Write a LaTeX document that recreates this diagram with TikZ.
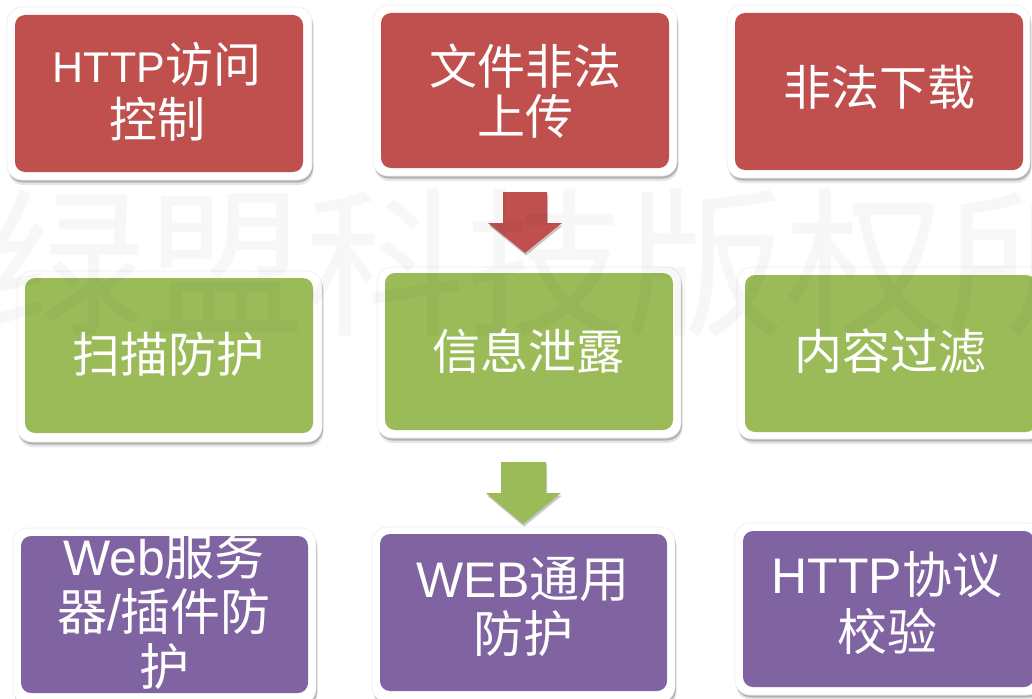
\documentclass[tikz,border=0pt]{standalone}
\usepackage{fontspec}
\usetikzlibrary{shadows}
\newfontfamily\song{Noto Sans CJK SC}
\newfontfamily\cjk{Noto Sans CJK SC}
\newfontfamily\lat{Liberation Sans}
\definecolor{redc}{HTML}{C0504D}
\definecolor{greenc}{HTML}{9BBB59}
\definecolor{purplec}{HTML}{8064A2}
\tikzset{
  frame/.style={fill=white, draw=black!7, line width=0.6pt, rounded corners=15pt, inner sep=0pt, outer sep=0pt,
    drop shadow={shadow xshift=1.5pt, shadow yshift=-5pt, opacity=0.10, fill=black},
    drop shadow={shadow xshift=1pt, shadow yshift=-2.5pt, opacity=0.22, fill=black}},
  inbox/.style={rounded corners=10pt, inner sep=0pt, outer sep=0pt},
  redbox/.style={inbox, fill=redc},
  greenbox/.style={inbox, fill=greenc},
  purplebox/.style={inbox, fill=purplec},
  lbl/.style={text=white, anchor=base, inner sep=0pt, outer sep=0pt},
  serif/.style={lbl, font=\song\fontsize{48}{48}\selectfont},
  sans/.style={lbl, font=\cjk\fontsize{50}{50}\selectfont},
  blockarrow/.style={drop shadow={shadow xshift=1pt, shadow yshift=-2.5pt, opacity=0.22, fill=black}},
  wmark/.style={anchor=base west, inner sep=0pt, text=black, text opacity=0.032,
    font=\cjk\fontsize{160}{160}\selectfont}
}
\newcommand{\LS}{\lat}
\begin{document}
\begin{tikzpicture}[x=1pt,y=-1pt]
\useasboundingbox (0,0) rectangle (1032,698);
\fill[white] (0,0) rectangle (1032,698);

% ---------- top row (red) ----------
\node[frame, minimum width=305pt, minimum height=173pt] (f1) at (159.5,93.5) {};
\node[redbox, minimum width=288pt, minimum height=157pt] (b1) at (159,93.5) {};
\node[serif] (t1a) at (157,83) {{\LS\fontsize{43}{43}\selectfont HTTP}访问};
\node[serif] (t1b) at (157,137) {控制};

\node[frame, minimum width=304pt, minimum height=171pt] (f2) at (525,90.5) {};
\node[redbox, minimum width=288pt, minimum height=155pt] (b2) at (525,90.5) {};
\node[serif] (t2a) at (525,85) {文件非法};
\node[serif] (t2b) at (525,134) {上传};

\node[frame, minimum width=303pt, minimum height=173pt] (f3) at (878.5,91.5) {};
\node[redbox, minimum width=288pt, minimum height=157pt] (b3) at (879,91.5) {};
\node[serif] (t3) at (879,106) {非法下载};

% red block arrow
\fill[redc, blockarrow] (503,192) -- (547,192) -- (547,223) -- (562,223) -- (525,253) -- (488,223) -- (503,223) -- cycle;

% ---------- middle row (green) ----------
\node[frame, minimum width=305pt, minimum height=171pt] (f4) at (169.5,356.5) {};
\node[greenbox, minimum width=288pt, minimum height=155pt] (g1) at (169,355.5) {};
\node[serif] (t4) at (168,372) {扫描防护};

\node[frame, minimum width=304pt, minimum height=171pt] (f5) at (529,352.5) {};
\node[greenbox, minimum width=288pt, minimum height=157pt] (g2) at (529,351.5) {};
\node[serif] (t5) at (528,369) {信息泄露};

\node[frame, minimum width=307pt, minimum height=172pt] (f6) at (890.5,353) {};
\node[greenbox, minimum width=291pt, minimum height=157pt] (g3) at (890.5,353.5) {};
\node[serif] (t6) at (890,369) {内容过滤};

% green block arrow
\fill[greenc, blockarrow] (501,462) -- (546,462) -- (546,493) -- (561,493) -- (523,524) -- (486,493) -- (501,493) -- cycle;

% ---------- bottom row (purple) ----------
\node[frame, minimum width=303pt, minimum height=176pt] (f7) at (164.5,616) {};
\node[purplebox, minimum width=287pt, minimum height=157pt] (p1) at (164.5,614.5) {};
\node[sans] (t7a) at (164,575) {{\LS Web}服务};
\node[sans] (t7b) at (164,630) {器{\LS /}插件防};
\node[sans] (t7c) at (164,685) {护};

\node[frame, minimum width=303pt, minimum height=175pt] (f8) at (523.5,614.5) {};
\node[purplebox, minimum width=287pt, minimum height=157pt] (p2) at (523.5,612.5) {};
\node[sans] (t8a) at (523,597) {{\LS WEB}通用};
\node[sans] (t8b) at (523,652) {防护};

\node[frame, minimum width=307pt, minimum height=172pt] (f9) at (888.5,609) {};
\node[purplebox, minimum width=291pt, minimum height=156pt] (p3) at (888.5,609) {};
\node[sans] (t9a) at (887,593) {{\LS HTTP}协议};
\node[sans] (t9b) at (887,650) {校验};

% ---------- watermark ----------
\node[wmark] (wm) at (-15,323) {绿盟科技版权所};
\end{tikzpicture}
\end{document}
